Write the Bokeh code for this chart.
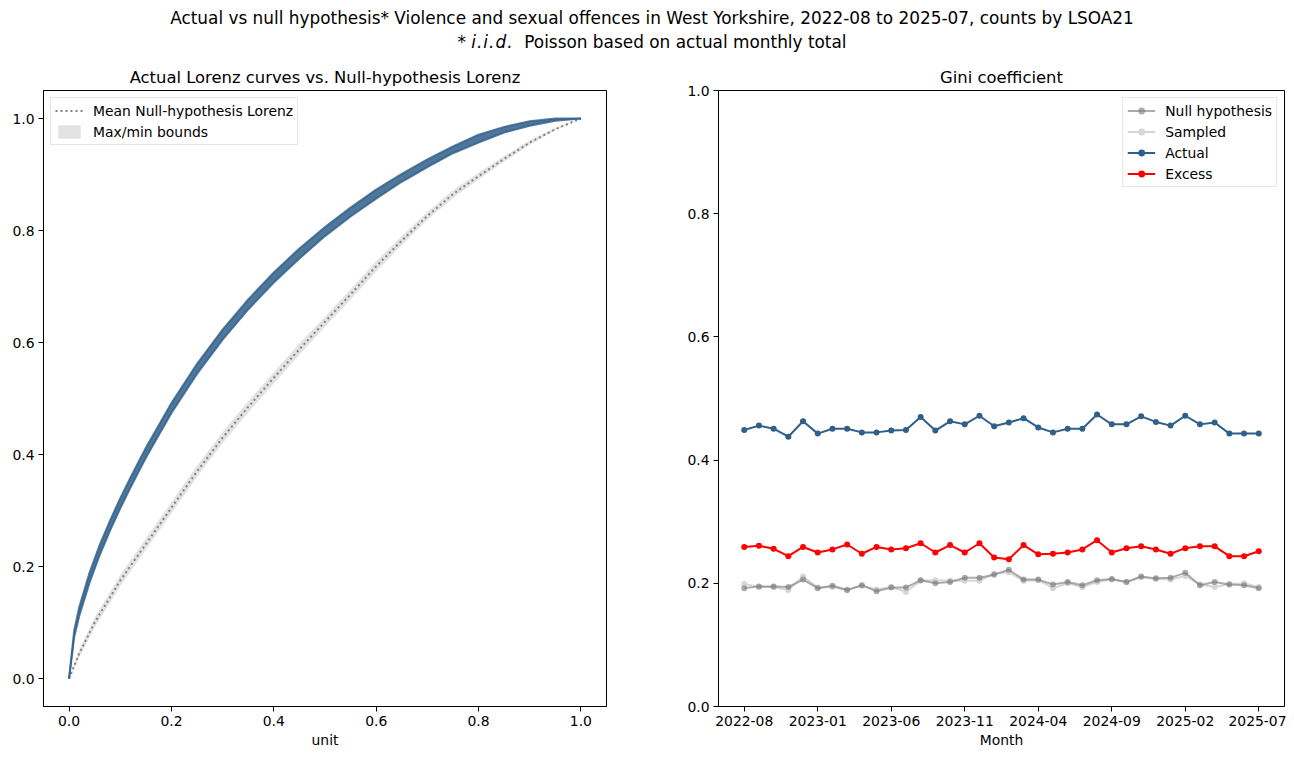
from bokeh.plotting import figure
from bokeh.models import (Div, FixedTicker, PrintfTickFormatter, Legend, LegendItem,
                          Range1d, ColumnDataSource)
from bokeh.layouts import column, row
from bokeh.embed import file_html
from bokeh.resources import INLINE

# ---------------- data ----------------
SUPTITLE_1 = ("Actual vs null hypothesis* Violence and sexual offences in West Yorkshire, "
              "2022-08 to 2025-07, counts by LSOA21")
SUPTITLE_2 = "Poisson based on actual monthly total"
LEFT_TITLE = "Actual Lorenz curves vs. Null-hypothesis Lorenz"
RIGHT_TITLE = "Gini coefficient"

# Lorenz curves (share of units, sorted descending)
actual_x = [0, 0.01, 0.02, 0.04, 0.06, 0.08, 0.10, 0.12, 0.15, 0.20, 0.25, 0.30, 0.35,
            0.40, 0.45, 0.50, 0.55, 0.60, 0.65, 0.70, 0.75, 0.80, 0.85, 0.90, 0.95, 1.0]
actual_upper = [0, 0.086, 0.128, 0.189, 0.239, 0.282, 0.322, 0.359, 0.412, 0.492, 0.562,
                0.623, 0.677, 0.725, 0.768, 0.806, 0.841, 0.873, 0.901, 0.927, 0.950,
                0.971, 0.985, 0.995, 1.0, 1.0]
actual_lower = [0, 0.074, 0.112, 0.171, 0.221, 0.264, 0.304, 0.341, 0.394, 0.474, 0.544,
                0.605, 0.659, 0.707, 0.750, 0.790, 0.825, 0.857, 0.887, 0.913, 0.938,
                0.957, 0.975, 0.987, 0.996, 1.0]

null_x = [0, 0.02, 0.05, 0.10, 0.15, 0.20, 0.25, 0.30, 0.35, 0.40, 0.45, 0.50, 0.55,
          0.60, 0.65, 0.70, 0.75, 0.80, 0.85, 0.90, 0.95, 1.0]
null_mean = [0, 0.045, 0.100, 0.175, 0.240, 0.305, 0.370, 0.430, 0.485, 0.537, 0.588,
             0.637, 0.686, 0.736, 0.782, 0.826, 0.865, 0.897, 0.928, 0.957, 0.981, 1.0]
null_max = [0, 0.052, 0.109, 0.185, 0.250, 0.315, 0.380, 0.440, 0.495, 0.547, 0.598,
            0.646, 0.695, 0.745, 0.790, 0.833, 0.872, 0.903, 0.933, 0.961, 0.983, 1.0]
null_min = [0, 0.038, 0.091, 0.165, 0.230, 0.295, 0.360, 0.420, 0.475, 0.527, 0.578,
            0.628, 0.677, 0.727, 0.774, 0.819, 0.858, 0.891, 0.923, 0.953, 0.979, 1.0]

# Monthly Gini coefficients
months = ["2022-08", "2022-09", "2022-10", "2022-11", "2022-12", "2023-01", "2023-02",
          "2023-03", "2023-04", "2023-05", "2023-06", "2023-07", "2023-08", "2023-09",
          "2023-10", "2023-11", "2023-12", "2024-01", "2024-02", "2024-03", "2024-04",
          "2024-05", "2024-06", "2024-07", "2024-08", "2024-09", "2024-10", "2024-11",
          "2024-12", "2025-01", "2025-02", "2025-03", "2025-04", "2025-05", "2025-06",
          "2025-07"]
gini_actual = [0.449, 0.456, 0.451, 0.438, 0.463, 0.443, 0.451, 0.451, 0.445, 0.445,
               0.448, 0.449, 0.470, 0.448, 0.463, 0.458, 0.472, 0.455, 0.461, 0.468,
               0.453, 0.445, 0.451, 0.451, 0.474, 0.458, 0.458, 0.471, 0.462, 0.456,
               0.472, 0.458, 0.461, 0.443, 0.443, 0.443]
gini_excess = [0.259, 0.261, 0.256, 0.244, 0.259, 0.250, 0.255, 0.263, 0.248, 0.259,
               0.255, 0.257, 0.265, 0.250, 0.262, 0.250, 0.265, 0.242, 0.239, 0.262,
               0.247, 0.248, 0.250, 0.255, 0.270, 0.250, 0.257, 0.260, 0.255, 0.248,
               0.257, 0.260, 0.260, 0.244, 0.244, 0.252]
gini_null = [0.192, 0.195, 0.195, 0.194, 0.206, 0.192, 0.196, 0.189, 0.197, 0.187,
             0.193, 0.193, 0.205, 0.200, 0.202, 0.209, 0.209, 0.214, 0.222, 0.206,
             0.206, 0.198, 0.202, 0.197, 0.205, 0.207, 0.202, 0.211, 0.208, 0.209,
             0.217, 0.197, 0.202, 0.198, 0.197, 0.192]
gini_sampled = [0.199, 0.194, 0.194, 0.189, 0.211, 0.193, 0.194, 0.189, 0.196, 0.190,
                0.194, 0.186, 0.204, 0.205, 0.204, 0.204, 0.204, 0.216, 0.218, 0.204,
                0.205, 0.192, 0.200, 0.194, 0.202, 0.206, 0.202, 0.210, 0.207, 0.206,
                0.212, 0.198, 0.194, 0.199, 0.200, 0.194]
month_tick_step = 5

# ---------------- styling ----------------
FONT = "DejaVu Sans"
BLUE = "#2f5f8a"
TICK_FS = "13.9px"
TITLE_FS = "16.4px"


def style(p):
    p.xgrid.visible = False
    p.ygrid.visible = False
    p.outline_line_color = "black"
    p.outline_line_width = 1
    p.background_fill_color = "white"
    p.border_fill_color = "white"
    p.title.align = "center"
    p.title.text_font = FONT
    p.title.text_font_size = TITLE_FS
    p.title.text_font_style = "normal"
    p.title.text_color = "black"
    p.title.standoff = 8
    for ax in (p.xaxis[0], p.yaxis[0]):
        ax.axis_line_color = "black"
        ax.axis_line_width = 1
        ax.major_tick_line_color = "black"
        ax.major_tick_out = 5
        ax.major_tick_in = 0
        ax.minor_tick_line_color = None
        ax.major_label_text_font = FONT
        ax.major_label_text_font_size = TICK_FS
        ax.major_label_text_color = "black"
        ax.major_label_standoff = 4
        ax.axis_label_text_font = FONT
        ax.axis_label_text_font_size = TICK_FS
        ax.axis_label_text_font_style = "normal"
        ax.axis_label_text_color = "black"
        ax.axis_label_standoff = 3


def style_legend(lg):
    lg.label_text_font = FONT
    lg.label_text_font_size = TICK_FS
    lg.label_text_color = "black"
    lg.border_line_color = "#cccccc"
    lg.border_line_width = 1
    lg.background_fill_alpha = 0.8
    lg.padding = 4
    lg.spacing = 4
    lg.glyph_height = 17
    lg.label_height = 17
    lg.glyph_width = 28
    lg.label_standoff = 10
    lg.margin = 7


# ---------------- left: Lorenz curves ----------------
p1 = figure(width=671, height=689, output_backend="svg", toolbar_location=None,
            x_range=Range1d(-0.05, 1.05), y_range=Range1d(-0.05, 1.05),
            min_border_left=43, min_border_right=65, min_border_top=27,
            min_border_bottom=44, title=LEFT_TITLE)
style(p1)
p1.xaxis.axis_label = "unit"
for ax in (p1.xaxis[0], p1.yaxis[0]):
    ax.ticker = FixedTicker(ticks=[0, 0.2, 0.4, 0.6, 0.8, 1.0])
    ax.formatter = PrintfTickFormatter(format="%.1f")

src_null = ColumnDataSource(dict(x=null_x, mean=null_mean, lo=null_min, hi=null_max))
src_act = ColumnDataSource(dict(x=actual_x, lo=actual_lower, hi=actual_upper))

band = p1.varea(x="x", y1="lo", y2="hi", source=src_null, fill_color="#c8c8c8",
                fill_alpha=0.5)
mean_line = p1.line(x="x", y="mean", source=src_null, line_color="grey",
                    line_width=2, line_dash="2 3")
p1.varea(x="x", y1="lo", y2="hi", source=src_act, fill_color=BLUE, fill_alpha=0.85)
p1.line(x="x", y="lo", source=src_act, line_color=BLUE, line_width=2, line_alpha=0.8)
p1.line(x="x", y="hi", source=src_act, line_color=BLUE, line_width=2, line_alpha=0.8)

lg1 = Legend(items=[LegendItem(label="Mean Null-hypothesis Lorenz", renderers=[mean_line]),
                    LegendItem(label="Max/min bounds", renderers=[band])],
             location="top_left")
style_legend(lg1)
p1.add_layout(lg1)

# ---------------- right: Gini coefficient ----------------
idx = list(range(len(months)))
p2 = figure(width=615, height=689, output_backend="svg", toolbar_location=None,
            x_range=Range1d(-1.75, len(months) - 1 + 1.75), y_range=Range1d(0, 1),
            min_border_left=47, min_border_right=2, min_border_top=27,
            min_border_bottom=44, title=RIGHT_TITLE)
style(p2)
p2.xaxis.axis_label = "Month"
tick_pos = idx[::month_tick_step]
p2.xaxis[0].ticker = FixedTicker(ticks=tick_pos)
p2.xaxis[0].major_label_overrides = {i: months[i] for i in tick_pos}
p2.yaxis[0].ticker = FixedTicker(ticks=[0, 0.2, 0.4, 0.6, 0.8, 1.0])
p2.yaxis[0].formatter = PrintfTickFormatter(format="%.1f")

src_g = ColumnDataSource(dict(x=idx, actual=gini_actual, excess=gini_excess,
                              null=gini_null, sampled=gini_sampled))

s_l = p2.line(x="x", y="sampled", source=src_g, line_color="#d6d6d6", line_width=2)
s_m = p2.scatter(x="x", y="sampled", source=src_g, size=6, fill_color="#d6d6d6",
                 line_color=None)
n_l = p2.line(x="x", y="null", source=src_g, line_color="grey", line_alpha=0.65,
              line_width=2)
n_m = p2.scatter(x="x", y="null", source=src_g, size=6, fill_color="grey",
                 fill_alpha=0.65, line_color=None)
a_l = p2.line(x="x", y="actual", source=src_g, line_color=BLUE, line_width=2)
a_m = p2.scatter(x="x", y="actual", source=src_g, size=6, fill_color=BLUE,
                 line_color=None)
e_l = p2.line(x="x", y="excess", source=src_g, line_color="red", line_width=2)
e_m = p2.scatter(x="x", y="excess", source=src_g, size=6, fill_color="red",
                 line_color=None)

lg2 = Legend(items=[LegendItem(label="Null hypothesis", renderers=[n_l, n_m]),
                    LegendItem(label="Sampled", renderers=[s_l, s_m]),
                    LegendItem(label="Actual", renderers=[a_l, a_m]),
                    LegendItem(label="Excess", renderers=[e_l, e_m])],
             location="top_right")
style_legend(lg2)
p2.add_layout(lg2)

# ---------------- header ----------------
header = Div(
    text=(f'<div style="width:1294px;text-align:center;font-family:\'DejaVu Sans\';'
          f'font-size:16.9px;line-height:24px;color:black;margin-top:1px">'
          f'{SUPTITLE_1}<br>* <i style="letter-spacing:1px">i.i.d.</i>&nbsp; {SUPTITLE_2}</div>'),
    width=1286, height=51)

layout = column(header, row(p1, p2))
open("out.html", "w").write(file_html(layout, INLINE))
